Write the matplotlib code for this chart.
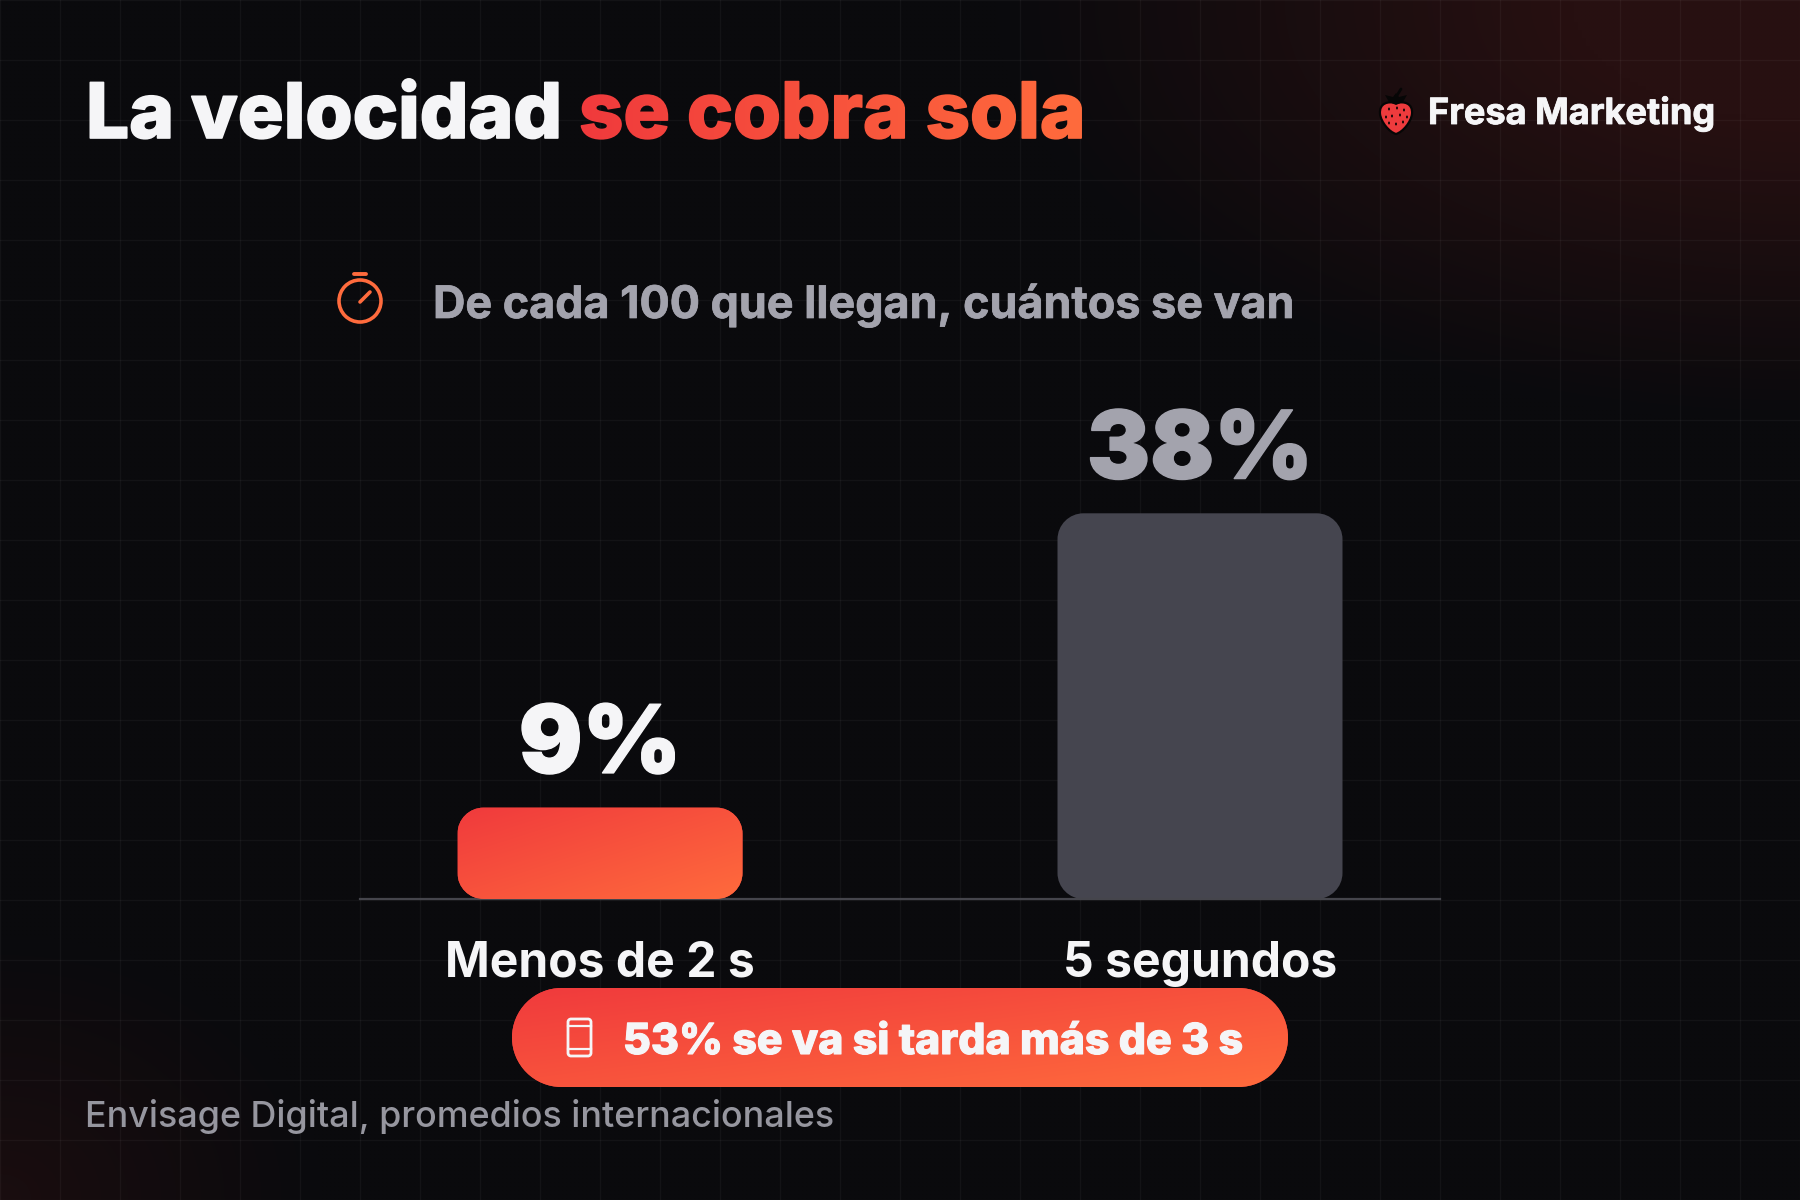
import numpy as np
import matplotlib
matplotlib.use("Agg")
import matplotlib.pyplot as plt
from matplotlib.patches import Circle, Ellipse, PathPatch
from matplotlib.path import Path
from matplotlib.colors import LinearSegmentedColormap
import matplotlib.patheffects as pe

categories = ["Menos de 2 s", "5 segundos"]
values = [9, 38]
value_labels = ["9%", "38%"]

title_white = "La velocidad"
title_red = "se cobra sola"
brand = "Fresa Marketing"
subtitle = "De cada 100 que llegan, cuántos se van"
callout = "53% se va si tarda más de 3 s"
source = "Envisage Digital, promedios internacionales"

BG = "#0a0a0d"
WHITE = "#f5f5f7"
GREY = "#a3a3ad"
BAR_GREY = "#45454f"
RED = "#f03a3c"
ORANGE = "#ff6b3d"

plt.rcParams["font.family"] = ["Inter", "DejaVu Sans"]
warm = LinearSegmentedColormap.from_list("warm", [RED, ORANGE])


def diagonal(n=200):
    # 0 at top left, 1 at bottom right
    yy, xx = np.mgrid[0:1:n * 1j, 0:1:n * 1j]
    return 0.5 * yy + 0.5 * xx


def rounded_path(x0, y0, x1, y1, rx, ry):
    # true circular corners, the "round" boxstyle gives squarer ones
    k = 1 - 0.5523
    v = [(x0 + rx, y0), (x1 - rx, y0),
         (x1 - rx * k, y0), (x1, y0 + ry * k), (x1, y0 + ry),
         (x1, y1 - ry),
         (x1, y1 - ry * k), (x1 - rx * k, y1), (x1 - rx, y1),
         (x0 + rx, y1),
         (x0 + rx * k, y1), (x0, y1 - ry * k), (x0, y1 - ry),
         (x0, y0 + ry),
         (x0, y0 + ry * k), (x0 + rx * k, y0), (x0 + rx, y0),
         (x0 + rx, y0)]
    c = [Path.MOVETO, Path.LINETO,
         Path.CURVE4, Path.CURVE4, Path.CURVE4,
         Path.LINETO,
         Path.CURVE4, Path.CURVE4, Path.CURVE4,
         Path.LINETO,
         Path.CURVE4, Path.CURVE4, Path.CURVE4,
         Path.LINETO,
         Path.CURVE4, Path.CURVE4, Path.CURVE4,
         Path.CLOSEPOLY]
    return Path(v, c)


def gradient_text(image, dpi):
    # keep the glyph alpha, swap the colour for a left to right ramp
    out = image.copy()
    ramp = warm(np.linspace(0, 1, image.shape[1]))[:, :3]
    out[:, :, :3] = ramp[None, :, :]
    return out, 0, 0


def thick(w, color):
    return [pe.withStroke(linewidth=w, foreground=color)]


fig = plt.figure(figsize=(18, 12), dpi=100, facecolor=BG)

# background with the two corner glows and the faint grid
bg = fig.add_axes([0, 0, 1, 1], zorder=0)
yy, xx = np.mgrid[0:1200:300j, 0:1800:450j]
glow_tr = np.clip(1.4 * (1 - np.hypot((xx - 1800) / 800, yy / 420)), 0, 1)
glow_bl = np.clip(0.55 * (1 - np.hypot(xx / 320, (yy - 1200) / 260)), 0, 1)
base = np.array([10, 10, 13]) / 255
tint = np.array([39, 16, 17]) / 255
mix = np.clip(glow_tr + glow_bl, 0, 1)[:, :, None]
bg.imshow(base + (tint - base) * mix, extent=(0, 1800, 1200, 0), aspect="auto",
          interpolation="bilinear")
for gx in range(0, 1801, 60):
    bg.axvline(gx, color="white", alpha=0.04, lw=1)
for gy in range(0, 1201, 60):
    bg.axhline(gy, color="white", alpha=0.04, lw=1)
bg.set_xlim(0, 1800)
bg.set_ylim(1200, 0)
bg.axis("off")

# the chart itself, 10.15 px per percentage point
ax = fig.add_axes([360 / 1800, (1200 - 899) / 1200, 1080 / 1800, 507.5 / 1200], zorder=1)
ax.patch.set_alpha(0)
x_pos = np.arange(len(values))
bar_w = 0.475
rx, ry = 26 / 600, 26 / 10.15
for i, (x, v) in enumerate(zip(x_pos, values)):
    box = PathPatch(rounded_path(x - bar_w / 2, 0, x + bar_w / 2, v, rx, ry),
                    fc=BAR_GREY if i == 1 else RED, lw=0, zorder=2)
    ax.add_patch(box)
    if i == 0:
        im = ax.imshow(diagonal(), cmap=warm, vmin=0, vmax=1, aspect="auto", zorder=3,
                       extent=(x - bar_w / 2, x + bar_w / 2, 0, v))
        im.set_clip_path(box)
    col = GREY if i == 1 else WHITE
    ax.annotate(value_labels[i], (x, v), xytext=(0, 25), textcoords="offset points",
                ha="center", va="baseline", fontsize=68, fontweight=900,
                color=col, path_effects=thick(1.0, col))
ax.set_xlim(-0.4, 1.4)
ax.set_ylim(0, 50)
ax.set_xticks(x_pos, categories)
ax.set_yticks([])
ax.tick_params(axis="x", length=0, pad=30, labelsize=34.6, labelcolor=WHITE)
for lab in ax.get_xticklabels():
    lab.set_fontweight("bold")
for side in ["top", "left", "right"]:
    ax.spines[side].set_visible(False)
ax.spines["bottom"].set_color("#45454c")
ax.spines["bottom"].set_linewidth(1.6)

# everything else sits in a pixel space overlay
ov = fig.add_axes([0, 0, 1, 1], zorder=2)
ov.set_xlim(0, 1800)
ov.set_ylim(1200, 0)
ov.axis("off")

ov.text(86, 138, title_white, fontsize=55, fontweight=800, color=WHITE, va="baseline",
        path_effects=thick(1.2, WHITE))
t = ov.text(579, 138, title_red, fontsize=55.8, fontweight=800, color=RED, va="baseline",
            path_effects=thick(1.2, RED))
t.set_agg_filter(gradient_text)

ov.text(1428, 124, brand, fontsize=26, fontweight="bold", color=WHITE, va="baseline",
        path_effects=thick(0.6, WHITE))

# strawberry
berry = Path([(1396, 103), (1404, 101), (1413, 103), (1412, 114), (1411, 122), (1403, 132),
              (1396, 134), (1389, 132), (1381, 122), (1380, 114), (1379, 103), (1388, 101),
              (1396, 103), (1396, 103)],
             [Path.MOVETO, Path.CURVE4, Path.CURVE4, Path.CURVE4, Path.CURVE4, Path.CURVE4,
              Path.CURVE4, Path.CURVE4, Path.CURVE4, Path.CURVE4, Path.CURVE4, Path.CURVE4,
              Path.CURVE4, Path.CLOSEPOLY])
ov.add_patch(PathPatch(berry, fc="#ee3b3d", ec="#060606", lw=1.6))
for sx, sy in [(1389, 109), (1397, 108), (1404, 110), (1392, 116), (1400, 115),
               (1386, 117), (1407, 117), (1396, 124), (1403, 122), (1389, 123)]:
    ov.add_patch(Ellipse((sx, sy), 2, 3, fc="#1a0808", lw=0))
leaves = [(1385, 95), (1393, 97), (1396, 93), (1399, 97), (1407, 95), (1403, 102),
          (1396, 105), (1389, 102)]
ov.fill([p[0] for p in leaves], [p[1] for p in leaves], color="#060606", lw=0)
ov.plot([1396, 1401], [97, 89], color="#060606", lw=2, solid_capstyle="round")

# stopwatch
ov.add_patch(Circle((360, 301), 21, fc="none", ec=ORANGE, lw=2.6))
ov.plot([354, 366], [274, 274], color=ORANGE, lw=2.8, solid_capstyle="round")
ov.plot([360, 370], [302, 292], color=ORANGE, lw=2.6, solid_capstyle="round")

ov.text(433, 318, subtitle, fontsize=32.3, fontweight="bold", color=GREY, va="baseline",
        path_effects=thick(0.5, GREY))

# call out pill
pill = PathPatch(rounded_path(512, 988, 1288, 1087, 49.5, 49.5), fc=RED, lw=0, zorder=3)
ov.add_patch(pill)
pill_im = ov.imshow(diagonal(), cmap=warm, vmin=0, vmax=1, aspect="auto", zorder=3.1,
                    extent=(512, 1288, 1087, 988))
pill_im.set_clip_path(pill)
ov.set_xlim(0, 1800)
ov.set_ylim(1200, 0)

# phone
ov.add_patch(PathPatch(rounded_path(568, 1019, 591, 1056, 3, 3), fc="none", ec=WHITE, lw=2,
                       zorder=4))
ov.plot([568, 591], [1026, 1026], color=WHITE, lw=1.6, zorder=4)
ov.plot([568, 591], [1049, 1049], color=WHITE, lw=1.6, zorder=4)

ov.text(623, 1054, callout, fontsize=30.8, fontweight=800, color=WHITE, va="baseline", zorder=4,
        path_effects=thick(0.8, WHITE))
ov.text(85, 1127, source, fontsize=25.8, fontweight=500, color="#96969f", va="baseline")

fig.savefig("out.png", dpi=100, facecolor=BG)
